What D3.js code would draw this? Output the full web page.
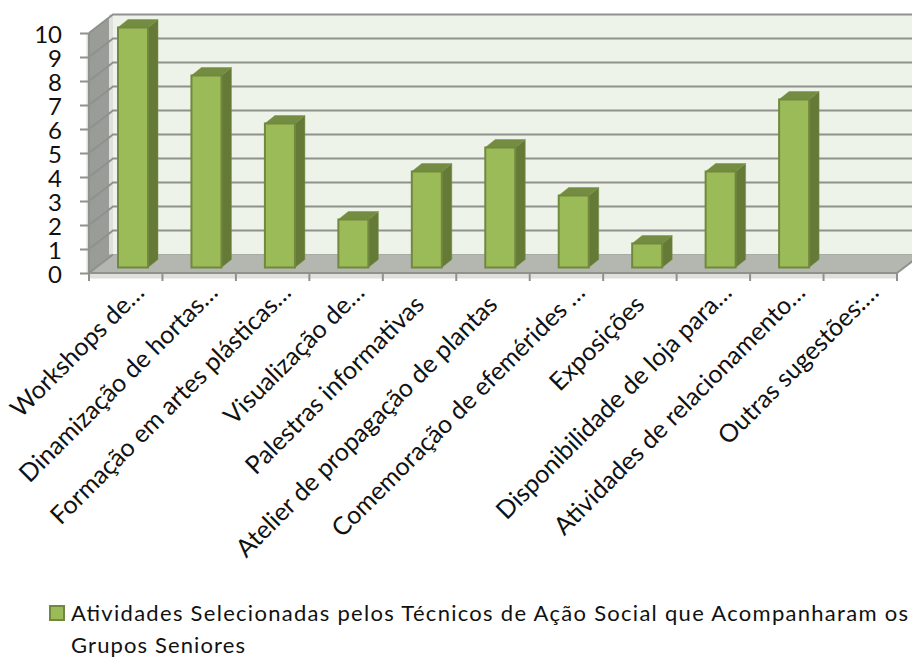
<!DOCTYPE html>
<html><head><meta charset="utf-8">
<style>html,body{margin:0;padding:0;background:#fff}svg{display:block}text{font-family:Lato,"Open Sans",sans-serif;fill:#111}</style>
<script src="https://cdn.jsdelivr.net/npm/d3@7/dist/d3.min.js"></script>
</head><body><svg id="c" width="912" height="657"></svg>
<script>
const categories=["Workshops de…","Dinamização de hortas…","Formação em artes plásticas…","Visualização de…","Palestras informativas","Atelier de propagação de plantas","Comemoração de efemérides …","Exposições","Disponibilidade de loja para…","Atividades de relacionamento…","Outras sugestões:…"];
const values=[10,8,6,2,4,5,3,1,4,7,0];
const yTicks=[0,1,2,3,4,5,6,7,8,9,10];
const seriesName=["Atividades Selecionadas pelos Técnicos de Ação Social que Acompanharam os","Grupos Seniores"];
const svg=d3.select("#c");
const x=d3.scaleBand().domain(categories).range([89,897]);
const y=d3.scaleLinear().domain([0,10]).range([273,33]);
const dx=24,dy=-18.5;
const poly=(pts,fill,stroke,sw)=>svg.append("polygon").attr("points",pts.map(p=>p.join(",")).join(" ")).attr("fill",fill).attr("stroke",stroke||"none").attr("stroke-width",sw||0);
const x0=x.range()[0],x1=x.range()[1];
// back wall
poly([[x0+dx,y(0)+dy],[x1+dx,y(0)+dy],[x1+dx,y(10)+dy],[x0+dx,y(10)+dy]],"#eef3ea");
// side wall
poly([[x0,y(0)],[x0+dx,y(0)+dy],[x0+dx,y(10)+dy],[x0,y(10)]],"#9a9c98");
// floor
poly([[x0,y(0)],[x1,y(0)],[x1+dx,y(0)+dy],[x0+dx,y(0)+dy]],"#b4b6b0");
svg.append("line").attr("x1",x0).attr("x2",x1).attr("y1",y(0)+3).attr("y2",y(0)+3).attr("stroke","#dfe0dd").attr("stroke-width",5);
svg.append("line").attr("x1",x0+dx-2).attr("x2",x0+dx-2).attr("y1",y(10)+dy).attr("y2",y(0)+dy).attr("stroke","#dfe0dd").attr("stroke-width",4);
svg.append("line").attr("x1",x0-1).attr("x2",x0-1).attr("y1",y(10)).attr("y2",y(0)).attr("stroke","#dcdedb").attr("stroke-width",3);
// gridlines
yTicks.forEach(t=>{
  const g=svg.append("g").attr("fill","none").attr("stroke","#8f918d").attr("stroke-width",2);
  const pts=t===0?[[x0,y(t)],[x0+dx,y(t)+dy]]:[[x0,y(t)],[x0+dx,y(t)+dy],[x1+dx,y(t)+dy]];
  g.append("polyline").attr("points",pts.map(p=>p.join(",")).join(" "));
  if(t===0) g.append("polyline").attr("points",[[x0+dx,y(t)+dy],[x1+dx,y(t)+dy]].map(p=>p.join(",")).join(" ")).attr("stroke","#a9aba5").attr("stroke-width",1);
});
// front axes
svg.append("line").attr("x1",x0).attr("x2",x1).attr("y1",y(0)).attr("y2",y(0)).attr("stroke","#8f918d").attr("stroke-width",2);
svg.append("line").attr("x1",x0).attr("x2",x0).attr("y1",y(10)).attr("y2",y(0)).attr("stroke","#8f918d").attr("stroke-width",2);
svg.append("line").attr("x1",x1).attr("x2",x1+dx).attr("y1",y(0)).attr("y2",y(0)+dy).attr("stroke","#8f918d").attr("stroke-width",2);
// ticks & y labels
const yAxis=d3.axisLeft(y).tickValues(yTicks).tickSize(9).tickPadding(18);
const ga=svg.append("g").attr("transform",`translate(${x0},0)`).call(yAxis);
ga.select(".domain").remove();
ga.selectAll("line").attr("stroke","#8f918d").attr("stroke-width",2);
ga.selectAll("text").attr("font-size",24).attr("dy","0.38em").style("font-family","Lato").attr("fill","#111");
const tickXs=d3.range(categories.length+1).map(i=>x0+i*x.step());
svg.selectAll(".xt").data(tickXs).join("line").attr("x1",d=>d).attr("x2",d=>d).attr("y1",y(0)).attr("y2",y(0)+8).attr("stroke","#8f918d").attr("stroke-width",2);
// bars
const bw=30,bdx=10,bdy=-8,barOff=29,base=-5.5;
values.forEach((v,i)=>{
  if(v===0) return;
  const l=x(categories[i])+barOff,r=l+bw,b=y(0)+base,t=y(v)+base;
  poly([[r,b],[r+bdx,b+bdy],[r+bdx,t+bdy],[r,t]],"#667a37","#78924a",.5);
  poly([[l,t],[r,t],[r+bdx,t+bdy],[l+bdx,t+bdy]],"#748c41","#78924a",.5);
  poly([[l,b],[r,b],[r,t],[l,t]],"#9bbb59","#71893f",2);
});
// x labels
svg.selectAll(".xl").data(categories).join("text")
 .attr("text-anchor","end").attr("font-size",25)
 .attr("transform",d=>{
   const cut=d.endsWith("…");
   return `translate(${x(d)+x.bandwidth()/2+(cut?20:6)},${y(0)+(cut?21:33)}) rotate(-45)`;
 })
 .text(d=>d);
// legend
svg.append("rect").attr("x",50).attr("y",606).attr("width",14).attr("height",14).attr("fill","#9bbb59").attr("stroke","#71893f").attr("stroke-width",2);
svg.selectAll(".lg").data(seriesName).join("text").attr("x",71).attr("y",(d,i)=>621+i*32).attr("font-size",22).attr("textLength",(d,i)=>i===0?837:174).attr("lengthAdjust","spacing").text(d=>d);
</script></body></html>
